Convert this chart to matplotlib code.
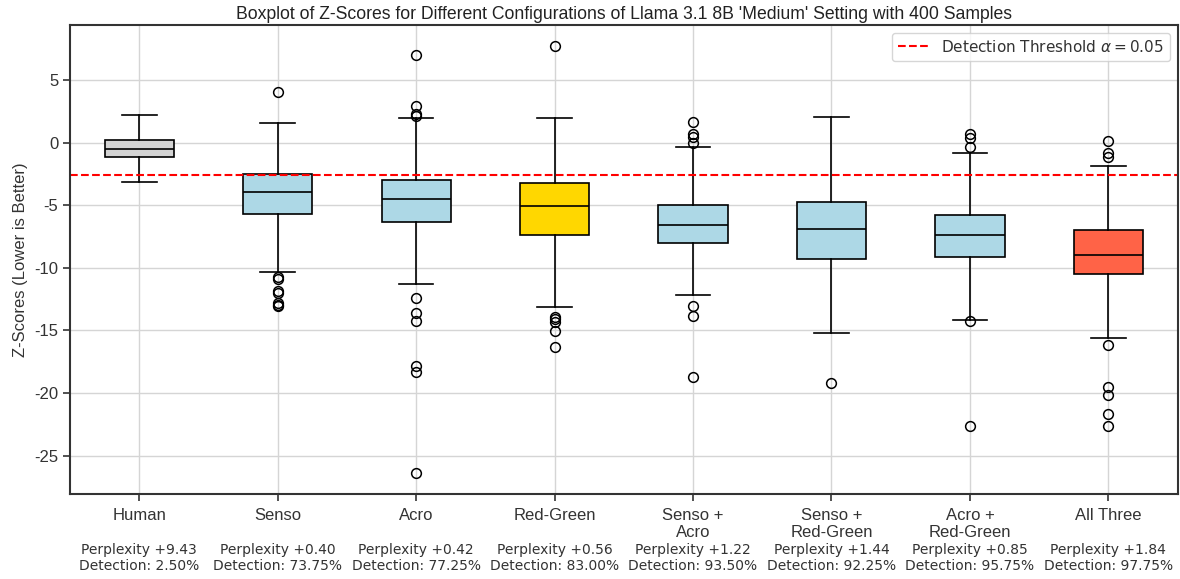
import matplotlib
matplotlib.use('Agg')
import matplotlib.pyplot as plt
from matplotlib import transforms

# подписи групп и статистики боксплотов
labels = ['Human', 'Senso', 'Acro', 'Red-Green', 'Senso +\nAcro',
          'Senso +\nRed-Green', 'Acro +\nRed-Green', 'All Three']
med = [-0.49, -3.94, -4.52, -5.03, -6.56, -6.88, -7.36, -8.95]
q1 = [-1.15, -5.66, -6.30, -7.36, -8.00, -9.27, -9.11, -10.46]
q3 = [0.20, -2.48, -2.93, -3.20, -4.95, -4.73, -5.77, -6.99]
whislo = [-3.12, -10.33, -11.29, -13.12, -12.19, -15.24, -14.18, -15.61]
whishi = [2.27, 1.63, 2.03, 2.03, -0.36, 2.06, -0.78, -1.82]
fliers = [
    [],
    [4.04, -10.73, -10.85, -11.85, -12.0, -12.77, -12.95, -13.04],
    [7.01, 2.93, 2.35, 2.16, -12.4, -13.6, -14.26, -17.84, -18.32, -26.36],
    [7.73, -13.92, -14.1, -14.31, -15.03, -16.35],
    [1.66, 0.70, 0.44, -0.04, -13.04, -13.84, -18.71],
    [-19.17],
    [0.68, 0.41, -0.31, -14.26, -22.61],
    [0.17, -0.83, -1.15, -16.17, -19.53, -20.17, -21.71, -22.61],
]
perplexity = [9.43, 0.40, 0.42, 0.56, 1.22, 1.44, 0.85, 1.84]
detection = [2.50, 73.75, 77.25, 83.00, 93.50, 92.25, 95.75, 97.75]
colors = ['lightgray', 'lightblue', 'lightblue', 'gold', 'lightblue',
          'lightblue', 'lightblue', 'tomato']
threshold = -2.6

plt.rcParams['font.family'] = ['Liberation Sans', 'DejaVu Sans']
plt.rcParams['axes.unicode_minus'] = False
plt.rcParams['text.color'] = '#333333'
plt.rcParams['xtick.labelcolor'] = '#333333'
plt.rcParams['ytick.labelcolor'] = '#333333'
plt.rcParams['axes.labelcolor'] = '#333333'

fig = plt.figure(figsize=(11.8, 5.79), dpi=100)
ax = fig.add_axes([0.0593, 0.147, 0.9387, 0.81])

stats = []
for i in range(len(labels)):
    stats.append({'med': med[i], 'q1': q1[i], 'q3': q3[i],
                  'whislo': whislo[i], 'whishi': whishi[i],
                  'fliers': fliers[i], 'label': labels[i]})

bp = ax.bxp(stats, positions=range(1, len(labels) + 1), widths=0.5,
            patch_artist=True,
            boxprops=dict(edgecolor='black', linewidth=1.2),
            medianprops=dict(color='black', linewidth=1.2),
            whiskerprops=dict(color='black', linewidth=1.2),
            capprops=dict(color='black', linewidth=1.2),
            flierprops=dict(marker='o', markerfacecolor='none',
                            markeredgecolor='black', markersize=7,
                            markeredgewidth=1.1))
for patch, c in zip(bp['boxes'], colors):
    patch.set_facecolor(c)

ax.axhline(threshold, color='red', linestyle='--', linewidth=1.5,
           label=r'Detection Threshold $\alpha = 0.05$')

ax.set_xlim(0.5, len(labels) + 0.5)
ax.grid(True, color='#d5d5d5', linewidth=1)
ax.set_axisbelow(True)
for s in ax.spines.values():
    s.set_color('#333333')
    s.set_linewidth(1.5)
ax.tick_params(axis='both', labelsize=12, length=5, width=1.2, color='#333333')
ax.tick_params(axis='x', pad=5)
ax.set_ylabel('Z-Scores (Lower is Better)', fontsize=12)
ax.set_title("Boxplot of Z-Scores for Different Configurations of Llama 3.1 8B 'Medium' Setting with 400 Samples",
             fontsize=12.7, pad=4, color='#222222')
ax.legend(loc='upper right', prop={'family': 'DejaVu Sans', 'size': 11})

# подписи с перплексией и детекцией под осью
trans = transforms.blended_transform_factory(ax.transData, ax.transAxes)
for i in range(len(labels)):
    ax.text(i + 1, -0.104, 'Perplexity +%.2f\nDetection: %.2f%%' % (perplexity[i], detection[i]),
            transform=trans, ha='center', va='top', fontsize=10,
            family='DejaVu Sans', linespacing=1.2)

fig.savefig('out.png', dpi=100)
